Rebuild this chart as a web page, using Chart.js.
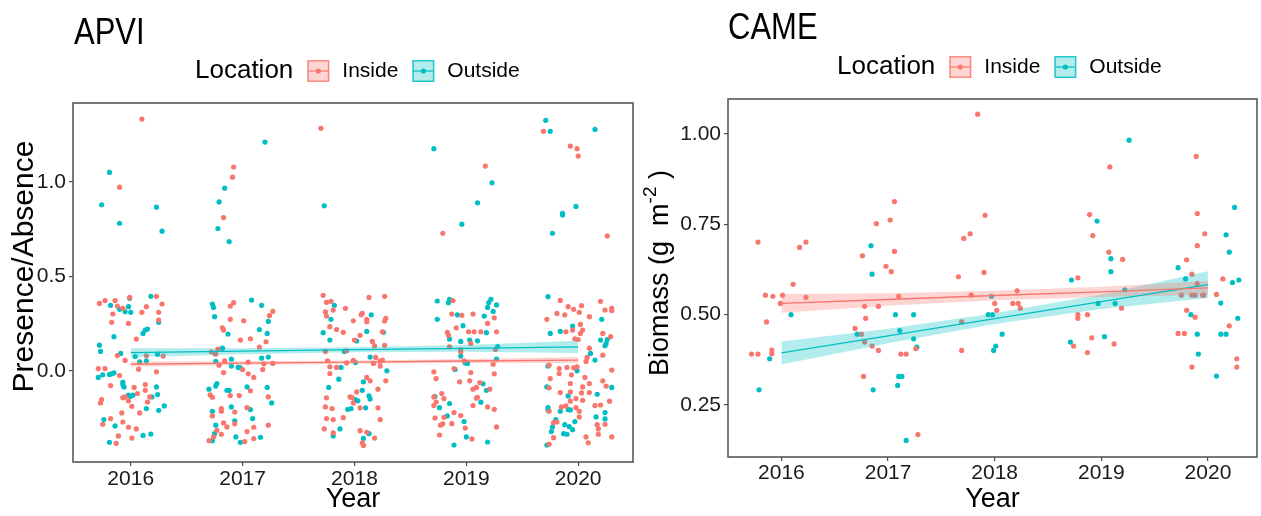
<!DOCTYPE html>
<html>
<head>
<meta charset="utf-8">
<script src="https://cdn.jsdelivr.net/npm/chart.js@4.4.1/dist/chart.umd.min.js"></script>
<style>
  html, body { margin: 0; padding: 0; background: #fff; }
  #wrap { position: relative; width: 1261px; height: 516px; }
  #apvi { position: absolute; left: 0; top: 0; }
  #came { position: absolute; left: 640px; top: 0; }
</style>
</head>
<body>
<div id="wrap">
  <canvas id="apvi" width="640" height="516"></canvas>
  <canvas id="came" width="621" height="516"></canvas>
</div>
<script>
// ---- data ----
const yearTicks = [2016, 2017, 2018, 2019, 2020];
const fitYears = [2016, 2017, 2018, 2019, 2020];
const seriesNames = ["Inside", "Outside"];

// APVI presence/absence (jittered points)
const apviInside = [
  [2016.10,1.334],[2017.70,1.285],[2015.90,0.973],[2016.92,1.080],[2016.91,1.026],[2016.83,0.812],[2019.17,1.085],[2018.79,0.729],[2019.69,1.269],[2019.93,1.191],[2019.99,1.177],[2020.00,1.138],[2020.26,0.715],
  [2015.72,0.357],[2015.77,0.372],[2015.86,0.372],[2015.88,0.343],[2015.93,0.331],[2015.99,0.389],[2016.10,0.310],[2016.14,0.340],[2016.23,0.395],[2016.28,0.354],[2016.25,0.310],[2015.84,0.301],[2015.83,0.257],[2015.98,0.251],[2016.25,0.269],[2016.05,0.168],[2015.88,0.081],[2015.95,0.055],[2016.14,0.080],[2016.29,0.078],[2015.71,0.012],[2015.77,0.012],[2016.07,0.009],[2016.23,-0.005],[2015.82,-0.078],[2015.90,-0.025],[2016.03,-0.088],[2016.06,-0.120],[2016.13,-0.073],[2016.13,-0.103],[2016.17,-0.138],[2015.74,-0.152],[2015.73,-0.170],[2015.93,-0.142],[2015.95,-0.138],[2015.98,-0.159],[2016.01,-0.188],[2016.15,-0.165],[2016.08,-0.223],[2015.92,-0.223],[2015.75,-0.283],[2015.82,-0.253],[2015.93,-0.271],[2015.98,-0.299],[2016.05,-0.308],[2015.89,-0.345],[2016.01,-0.356],[2015.87,-0.384],
  [2016.89,0.343],[2016.92,0.361],[2017.27,0.315],[2017.24,0.292],[2016.89,0.273],[2017.01,0.265],[2016.82,0.228],[2016.83,0.216],[2017.21,0.154],[2016.98,0.163],[2017.07,0.170],[2017.15,0.126],[2016.78,0.115],[2016.76,0.088],[2016.72,0.101],[2016.84,0.053],[2017.05,0.046],[2017.19,0.037],[2017.27,0.039],[2016.79,0.030],[2017.00,0.007],[2017.05,-0.016],[2017.10,-0.035],[2017.18,0.007],[2016.83,-0.009],[2016.71,-0.127],[2016.73,-0.140],[2016.89,-0.131],[2016.97,-0.131],[2017.07,-0.106],[2017.23,-0.138],[2016.81,-0.200],[2016.81,-0.214],[2016.73,-0.239],[2016.93,-0.218],[2017.04,-0.195],[2016.83,-0.276],[2016.93,-0.281],[2016.86,-0.297],[2017.10,-0.299],[2017.23,-0.288],[2016.77,-0.315],[2016.81,-0.336],[2016.74,-0.350],[2017.04,-0.322],[2017.10,-0.359],[2016.70,-0.370],[2017.02,-0.375],
  [2017.72,0.400],[2017.75,0.363],[2017.79,0.368],[2017.81,0.322],[2017.74,0.312],[2017.75,0.290],[2017.92,0.331],[2017.84,0.219],[2017.78,0.234],[2017.90,0.204],[2017.74,0.103],[2017.93,0.106],[2017.76,0.053],[2017.78,0.021],[2017.84,0.018],[2017.78,-0.014],[2017.75,-0.143],[2017.96,-0.138],[2017.74,-0.191],[2017.80,-0.200],[2017.75,-0.253],[2017.81,-0.258],[2017.90,-0.248],[2017.73,-0.308],[2017.81,-0.329],
  [2018.13,0.389],[2018.27,0.395],[2018.07,0.304],[2018.06,0.297],[2018.11,0.273],[2018.11,0.260],[2018.28,0.278],[2018.27,0.264],[2017.99,0.265],[2018.00,0.163],[2018.05,0.188],[2018.25,0.207],[2018.16,0.156],[2018.18,0.133],[2018.27,0.135],[2017.99,0.055],[2017.93,0.042],[2018.19,0.071],[2018.23,0.051],[2018.23,0.025],[2018.25,0.057],[2018.17,0.039],[2018.11,-0.035],[2018.14,-0.053],[2018.28,-0.053],[2018.02,-0.112],[2017.98,-0.142],[2017.99,-0.170],[2018.21,-0.097],[2018.05,-0.196],[2018.21,-0.196],[2018.23,-0.258],[2018.05,-0.317],[2018.11,-0.326],[2018.18,-0.356],[2018.07,-0.381],[2018.08,-0.395],
  [2018.88,0.372],[2018.87,0.301],[2018.96,0.294],[2019.06,0.301],[2019.25,0.281],[2019.19,0.251],[2018.91,0.228],[2019.02,0.207],[2019.07,0.207],[2018.83,0.204],[2018.84,0.189],[2018.85,0.127],[2019.13,0.207],[2019.27,0.207],[2019.04,0.145],[2018.95,0.113],[2018.95,0.101],[2019.26,0.113],[2018.98,0.053],[2019.24,0.035],[2018.71,-0.005],[2018.73,-0.041],[2018.89,0.012],[2019.04,-0.009],[2019.25,-0.016],[2018.94,-0.058],[2019.03,-0.053],[2019.12,-0.062],[2019.06,-0.097],[2019.09,-0.088],[2019.21,-0.097],[2018.71,-0.138],[2018.78,-0.120],[2018.80,-0.147],[2018.71,-0.184],[2018.73,-0.165],[2018.89,-0.221],[2018.95,-0.237],[2018.72,-0.250],[2018.80,-0.246],[2018.77,-0.288],[2018.79,-0.281],[2018.87,-0.280],[2018.99,-0.303],[2019.09,-0.145],[2019.10,-0.140],[2019.06,-0.184],[2019.19,-0.191],[2019.25,-0.204],[2019.27,-0.297],[2019.05,-0.361],[2018.76,-0.340],
  [2019.84,0.373],[2019.91,0.340],[2019.96,0.326],[2020.03,0.345],[2019.81,0.304],[2019.88,0.297],[2020.01,0.310],[2020.10,0.287],[2020.20,0.368],[2020.24,0.322],[2020.30,0.331],[2020.30,0.319],[2019.72,0.273],[2019.89,0.207],[2019.95,0.216],[2020.02,0.246],[2020.04,0.216],[2020.02,0.198],[2019.97,0.170],[2020.00,0.166],[2020.22,0.198],[2020.29,0.181],[2020.10,0.120],[2020.08,0.071],[2020.22,0.083],[2020.07,0.050],[2019.74,0.030],[2019.83,0.012],[2019.90,0.018],[2019.96,0.016],[2019.99,0.021],[2019.94,-0.021],[2019.83,-0.014],[2019.75,-0.041],[2019.74,-0.090],[2019.93,-0.067],[2020.06,-0.035],[2020.10,-0.067],[2020.04,-0.085],[2020.10,-0.115],[2020.03,-0.117],[2020.30,0.004],[2020.22,-0.053],[2020.25,-0.081],[2019.84,-0.115],[2019.93,-0.112],[2019.98,-0.147],[2019.93,-0.161],[2019.89,-0.186],[2019.85,-0.191],[2020.04,-0.156],[2020.15,-0.184],[2020.20,-0.181],[2019.74,-0.214],[2020.01,-0.214],[2019.98,-0.195],[2020.28,-0.161],[2020.24,-0.283],[2020.01,-0.244],[2019.78,-0.274],[2019.81,-0.271],[2020.17,-0.285],[2020.18,-0.308],[2020.18,-0.336],[2019.78,-0.354],[2020.07,-0.350],[2020.09,-0.381],[2020.30,-0.350],[2019.74,-0.389]
];
const apviOutside = [
  [2015.81,1.051],[2015.74,0.880],[2016.23,0.867],[2015.90,0.782],[2016.28,0.740],[2017.20,1.212],[2016.84,0.968],[2016.79,0.895],[2016.78,0.754],[2016.88,0.685],[2017.73,0.874],[2019.71,1.327],[2019.75,1.269],[2020.15,1.279],[2018.71,1.177],[2019.23,0.996],[2019.10,0.890],[2018.96,0.777],[2019.98,0.871],[2019.86,0.835],[2019.86,0.825],[2019.77,0.729],
  [2015.82,0.347],[2015.90,0.326],[2015.95,0.313],[2015.99,0.384],[2016.00,0.310],[2015.98,0.340],[2016.18,0.395],[2016.25,0.257],[2015.85,0.181],[2016.11,0.198],[2016.13,0.216],[2016.15,0.221],[2015.72,0.136],[2015.73,0.103],[2015.91,0.092],[2016.04,0.076],[2016.08,0.048],[2016.14,0.053],[2016.24,0.088],[2015.71,-0.035],[2015.75,-0.021],[2015.81,-0.019],[2015.83,-0.016],[2015.85,-0.011],[2015.93,-0.060],[2015.93,-0.073],[2015.94,-0.085],[2016.02,-0.129],[2016.23,-0.085],[2016.24,-0.126],[2016.19,-0.138],[2015.98,-0.129],[2016.00,-0.135],[2016.14,-0.200],[2016.25,-0.209],[2016.30,-0.186],[2015.76,-0.258],[2015.86,-0.292],[2016.11,-0.342],[2016.18,-0.335],[2015.81,-0.379],
  [2016.73,0.354],[2016.74,0.336],[2017.08,0.375],[2017.17,0.347],[2016.75,0.287],[2017.23,0.262],[2016.87,0.195],[2017.15,0.219],[2017.22,0.198],[2016.82,0.120],[2016.75,0.092],[2016.76,0.050],[2016.90,0.062],[2017.17,0.067],[2017.23,0.073],[2016.90,0.025],[2016.96,0.018],[2016.98,0.016],[2016.70,-0.097],[2016.77,-0.067],[2016.76,-0.081],[2016.86,-0.103],[2016.88,-0.103],[2017.04,-0.085],[2017.22,-0.088],[2017.26,-0.170],[2016.90,-0.191],[2016.73,-0.214],[2017.07,-0.205],[2017.09,-0.253],[2016.93,-0.265],[2016.76,-0.288],[2016.75,-0.333],[2016.94,-0.350],[2017.16,-0.352],[2016.73,-0.370],[2016.98,-0.379],
  [2017.82,0.347],[2017.79,0.273],[2017.72,0.202],[2017.78,0.163],[2017.91,0.103],[2017.88,0.018],[2017.86,-0.044],[2017.77,-0.088],[2017.94,-0.204],[2017.87,-0.308],[2017.81,-0.345],
  [2018.15,0.297],[2018.02,0.158],[2018.11,0.209],[2018.26,0.204],[2018.01,0.044],[2018.14,0.073],[2018.29,0.000],[2018.08,-0.058],[2018.07,-0.103],[2018.01,-0.152],[2018.03,-0.159],[2018.13,-0.133],[2018.14,-0.149],[2018.10,-0.196],[2017.97,-0.200],[2018.13,-0.333],[2018.08,-0.358],
  [2018.74,0.370],[2018.84,0.361],[2018.85,0.379],[2018.92,0.297],[2019.16,0.290],[2019.19,0.336],[2019.20,0.361],[2019.22,0.379],[2019.27,0.349],[2019.24,0.315],[2018.74,0.273],[2018.97,0.239],[2018.85,0.168],[2018.95,0.156],[2019.03,0.163],[2019.10,0.159],[2019.18,0.202],[2019.28,0.129],[2018.95,0.078],[2018.99,0.042],[2019.01,0.039],[2019.27,0.062],[2018.90,0.007],[2019.15,-0.069],[2019.18,-0.103],[2018.72,-0.136],[2018.85,-0.173],[2018.76,-0.195],[2018.83,-0.239],[2018.98,-0.269],[2019.13,-0.166],[2019.00,-0.350],[2018.89,-0.393],[2019.19,-0.377],
  [2019.73,0.393],[2019.75,0.198],[2019.84,0.209],[2019.95,0.237],[2020.21,0.273],[2020.20,0.163],[2020.26,0.166],[2020.25,0.145],[2020.24,0.133],[2020.11,0.092],[2020.15,0.057],[2019.73,0.025],[2019.99,0.000],[2019.72,-0.085],[2020.30,-0.088],[2019.91,-0.133],[2020.17,-0.124],[2019.73,-0.195],[2019.73,-0.209],[2019.84,-0.214],[2019.91,-0.205],[2019.93,-0.207],[2020.24,-0.221],[2020.16,-0.244],[2020.24,-0.255],[2019.97,-0.269],[2019.80,-0.258],[2019.77,-0.297],[2019.76,-0.322],[2019.88,-0.285],[2019.92,-0.296],[2019.95,-0.312],[2019.87,-0.333],[2019.90,-0.336],[2019.72,-0.393]
];
// APVI linear fits with confidence band
const apviInsideFit = [0.035, 0.041, 0.046, 0.052, 0.057];
const apviInsideLow = [0.021, 0.031, 0.037, 0.041, 0.041];
const apviInsideHigh = [0.049, 0.051, 0.055, 0.063, 0.073];
const apviOutsideFit = [0.096, 0.104, 0.112, 0.119, 0.127];
const apviOutsideLow = [0.072, 0.088, 0.099, 0.101, 0.094];
const apviOutsideHigh = [0.120, 0.120, 0.125, 0.137, 0.160];
const apviYTicks = [0, 0.5, 1.0];

// CAME biomass (g m-2)
const cameInside = [
  [2017.84,1.055],[2017.06,0.813],[2017.02,0.762],[2016.89,0.752],[2015.78,0.701],[2016.17,0.686],[2016.23,0.701],[2016.76,0.663],[2017.06,0.675],[2016.98,0.634],[2017.03,0.619],[2017.71,0.711],[2017.77,0.724],[2017.66,0.605],[2019.89,0.938],[2019.08,0.909],[2017.91,0.775],[2018.89,0.777],[2018.92,0.719],[2019.90,0.780],[2019.97,0.724],[2019.90,0.691],[2019.07,0.673],[2019.20,0.653],[2019.80,0.652],[2019.85,0.612],[2017.90,0.617],
  [2016.11,0.584],[2015.85,0.554],[2015.92,0.551],[2016.01,0.554],[2016.23,0.548],[2017.10,0.551],[2017.78,0.554],[2015.99,0.531],[2016.78,0.523],[2016.91,0.523],[2016.79,0.490],[2015.86,0.480],[2017.69,0.480],[2016.69,0.462],[2016.75,0.446],[2016.78,0.424],[2016.85,0.413],[2017.26,0.406],[2015.91,0.402],[2015.91,0.392],[2016.91,0.401],[2017.69,0.401],[2015.72,0.391],[2015.78,0.391],[2017.12,0.391],[2017.17,0.391],[2016.77,0.329],[2017.28,0.168],
  [2018.78,0.602],[2020.14,0.599],[2019.90,0.586],[2018.21,0.566],[2019.75,0.554],[2019.85,0.554],[2019.88,0.554],[2019.95,0.554],[2019.96,0.554],[2020.08,0.556],[2018.00,0.531],[2018.17,0.531],[2018.22,0.531],[2018.02,0.512],[2018.24,0.518],[2019.19,0.518],[2019.80,0.512],[2018.78,0.500],[2018.87,0.500],[2018.78,0.490],[2019.88,0.493],[2020.20,0.469],[2019.72,0.448],[2019.78,0.448],[2018.91,0.436],[2018.74,0.413],[2019.12,0.419],[2018.87,0.395],[2020.27,0.378],[2019.85,0.355],[2020.27,0.355]
];
const cameOutside = [
  [2016.84,0.691],[2016.85,0.612],[2019.26,0.983],[2018.96,0.759],[2020.25,0.797],[2020.17,0.721],[2020.20,0.673],[2019.09,0.655],[2019.09,0.619],[2019.72,0.630],
  [2016.09,0.500],[2017.07,0.500],[2017.24,0.500],[2017.11,0.456],[2016.71,0.446],[2017.24,0.433],[2017.27,0.410],[2015.89,0.378],[2017.10,0.329],[2017.13,0.329],[2017.09,0.304],[2015.79,0.292],[2016.86,0.292],[2017.17,0.152],
  [2018.72,0.596],[2019.79,0.599],[2020.23,0.589],[2020.29,0.596],[2017.97,0.551],[2019.22,0.569],[2018.97,0.531],[2019.13,0.531],[2020.12,0.532],[2017.94,0.500],[2017.98,0.500],[2019.84,0.500],[2020.28,0.490],[2018.07,0.446],[2019.90,0.446],[2020.12,0.446],[2020.17,0.446],[2019.03,0.439],[2018.71,0.424],[2018.01,0.413],[2017.99,0.401],[2019.91,0.391],[2020.08,0.330]
];
const cameInsideFit = [0.531, 0.542, 0.553, 0.563, 0.574];
const cameInsideLow = [0.505, 0.525, 0.540, 0.549, 0.555];
const cameInsideHigh = [0.557, 0.559, 0.566, 0.577, 0.593];
const cameOutsideFit = [0.394, 0.441, 0.489, 0.536, 0.583];
const cameOutsideLow = [0.362, 0.421, 0.474, 0.516, 0.546];
const cameOutsideHigh = [0.426, 0.461, 0.504, 0.556, 0.620];
const cameYTicks = [0.25, 0.50, 0.75, 1.00];

// ---- styling ----
const RED = "#F8766D";
const TEAL = "#00BFC4";
const RED_BAND = "rgba(248,118,109,0.3)";
const TEAL_BAND = "rgba(0,191,196,0.3)";
const FONT = '"Liberation Sans", Arial, sans-serif';
Chart.defaults.font.family = FONT;

const toXY = arr => arr.map(p => ({ x: p[0], y: p[1] }));
const fitXY = vals => fitYears.map((x, i) => ({ x: x, y: vals[i] }));

// title, legend, boxed panel, y title (with superscript)
const decorations = {
  id: "decorations",
  afterDraw(chart, args, opts) {
    const ctx = chart.ctx;
    const area = chart.chartArea;
    ctx.save();

    // panel border
    ctx.strokeStyle = "#4d4d4d";
    ctx.lineWidth = 1.5;
    ctx.strokeRect(area.left, area.top, area.right - area.left, area.bottom - area.top);

    // panel title (the source renders it a bit taller than wide)
    ctx.fillStyle = "#000";
    ctx.textBaseline = "alphabetic";
    ctx.font = "31px " + FONT;
    ctx.save();
    ctx.translate(opts.titleX, opts.titleY);
    ctx.scale(1, 1.18);
    ctx.fillText(opts.title, 0, 0);
    ctx.restore();

    // legend: "Location" + keys
    ctx.textBaseline = "middle";
    ctx.font = "26px " + FONT;
    let x = opts.legendX;
    const y = opts.legendY;
    ctx.fillText("Location", x, y);
    x += ctx.measureText("Location").width + 14;
    const keys = [
      { label: seriesNames[0], color: RED, band: RED_BAND },
      { label: seriesNames[1], color: TEAL, band: TEAL_BAND }
    ];
    keys.forEach(k => {
      ctx.fillStyle = k.band;
      ctx.fillRect(x, y - 11, 22, 22);
      ctx.strokeStyle = k.color;
      ctx.globalAlpha = 0.8;
      ctx.lineWidth = 1.5;
      ctx.strokeRect(x + 0.75, y - 10.25, 20.5, 20.5);
      ctx.globalAlpha = 1;
      ctx.lineWidth = 1.2;
      ctx.beginPath();
      ctx.moveTo(x + 1, y);
      ctx.lineTo(x + 21, y);
      ctx.stroke();
      ctx.fillStyle = k.color;
      ctx.beginPath();
      ctx.arc(x + 11, y, 2.6, 0, Math.PI * 2);
      ctx.fill();
      x += 22 + 13;
      ctx.fillStyle = "#000";
      ctx.font = "21px " + FONT;
      ctx.fillText(k.label, x, y);
      x += ctx.measureText(k.label).width + 14;
    });

    // y title, rotated, parts may be superscript
    const cy = (area.top + area.bottom) / 2 + opts.yTitleShift;
    ctx.translate(opts.yTitleX, cy);
    ctx.rotate(-Math.PI / 2);
    ctx.textBaseline = "middle";
    ctx.fillStyle = "#000";
    const mainFont = opts.yTitleSize + "px " + FONT;
    const supFont = "19px " + FONT;
    let total = 0;
    opts.yTitleParts.forEach(p => {
      ctx.font = p.sup ? supFont : mainFont;
      total += ctx.measureText(p.text).width;
    });
    let tx = -total / 2;
    opts.yTitleParts.forEach(p => {
      ctx.font = p.sup ? supFont : mainFont;
      ctx.fillText(p.text, tx, p.sup ? -10 : 0);
      tx += ctx.measureText(p.text).width;
    });
    ctx.restore();
  }
};

function makePanel(id, cfg) {
  const pointStyle = { pointRadius: 2.6, pointHoverRadius: 2.6, borderWidth: 0 };
  const bandStyle = { type: "line", pointRadius: 0, borderWidth: 0, order: 1 };
  const lineStyle = { type: "line", pointRadius: 0, borderWidth: 1.3, fill: false, order: 0 };

  return new Chart(document.getElementById(id), {
    type: "scatter",
    data: {
      datasets: [
        { label: seriesNames[0], data: toXY(cfg.inside), backgroundColor: RED, order: 2, ...pointStyle },
        { label: seriesNames[1], data: toXY(cfg.outside), backgroundColor: TEAL, order: 2, ...pointStyle },
        { label: "Inside upper", data: fitXY(cfg.insideHigh), fill: "+1", backgroundColor: RED_BAND, ...bandStyle },
        { label: "Inside lower", data: fitXY(cfg.insideLow), fill: false, ...bandStyle },
        { label: "Outside upper", data: fitXY(cfg.outsideHigh), fill: "+1", backgroundColor: TEAL_BAND, ...bandStyle },
        { label: "Outside lower", data: fitXY(cfg.outsideLow), fill: false, ...bandStyle },
        { label: "Inside fit", data: fitXY(cfg.insideFit), borderColor: RED, ...lineStyle },
        { label: "Outside fit", data: fitXY(cfg.outsideFit), borderColor: TEAL, ...lineStyle }
      ]
    },
    options: {
      responsive: false,
      animation: false,
      layout: { padding: { top: cfg.padTop, right: cfg.padRight, bottom: 0, left: 0 } },
      plugins: {
        legend: { display: false },
        tooltip: { enabled: false },
        decorations: cfg.deco
      },
      scales: {
        x: {
          type: "linear",
          min: cfg.xMin,
          max: cfg.xMax,
          afterBuildTicks: s => { s.ticks = yearTicks.map(v => ({ value: v })); },
          afterFit: s => { s.height = cfg.xAxisHeight; },
          border: { display: false },
          grid: { drawOnChartArea: false, drawTicks: true, tickLength: 4, color: "#4d4d4d", lineWidth: 1.2 },
          ticks: { color: "#1a1a1a", font: { size: 21 }, padding: cfg.xTickPad, maxRotation: 0, callback: v => String(v) },
          title: { display: true, text: "Year", color: "#000", font: { size: 27 }, padding: { top: cfg.xTitlePad, bottom: 0 } }
        },
        y: {
          type: "linear",
          min: cfg.yMin,
          max: cfg.yMax,
          afterBuildTicks: s => { s.ticks = cfg.yTicks.map(v => ({ value: v })); },
          afterFit: s => { s.width = cfg.yAxisWidth; },
          border: { display: false },
          grid: { drawOnChartArea: false, drawTicks: true, tickLength: 4, color: "#4d4d4d", lineWidth: 1.2 },
          ticks: { color: "#1a1a1a", font: { size: 21 }, padding: 3, callback: v => v.toFixed(cfg.decimals) },
          title: { display: false }
        }
      }
    },
    plugins: [decorations]
  });
}

makePanel("apvi", {
  inside: apviInside, outside: apviOutside,
  insideFit: apviInsideFit, insideLow: apviInsideLow, insideHigh: apviInsideHigh,
  outsideFit: apviOutsideFit, outsideLow: apviOutsideLow, outsideHigh: apviOutsideHigh,
  xMin: 2015.484, xMax: 2020.49, yMin: -0.483, yMax: 1.419, yTicks: apviYTicks, decimals: 1,
  padTop: 103, padRight: 7, xAxisHeight: 54, yAxisWidth: 73, xTickPad: 1, xTitlePad: 0,
  deco: {
    title: "APVI", titleX: 74, titleY: 44, legendX: 195, legendY: 71,
    yTitleX: 25, yTitleShift: -16, yTitleSize: 30,
    yTitleParts: [{ text: "Presence/Absence" }]
  }
});

makePanel("came", {
  inside: cameInside, outside: cameOutside,
  insideFit: cameInsideFit, insideLow: cameInsideLow, insideHigh: cameInsideHigh,
  outsideFit: cameOutsideFit, outsideLow: cameOutsideLow, outsideHigh: cameOutsideHigh,
  xMin: 2015.499, xMax: 2020.46, yMin: 0.106, yMax: 1.097, yTicks: cameYTicks, decimals: 2,
  padTop: 99, padRight: 4, xAxisHeight: 59, yAxisWidth: 88, xTickPad: 0, xTitlePad: 4,
  deco: {
    title: "CAME", titleX: 88, titleY: 39, legendX: 197, legendY: 67,
    yTitleX: 21, yTitleShift: -5, yTitleSize: 27,
    yTitleParts: [{ text: "Biomass (g  m" }, { text: "-2", sup: true }, { text: " )" }]
  }
});
</script>
</body>
</html>
